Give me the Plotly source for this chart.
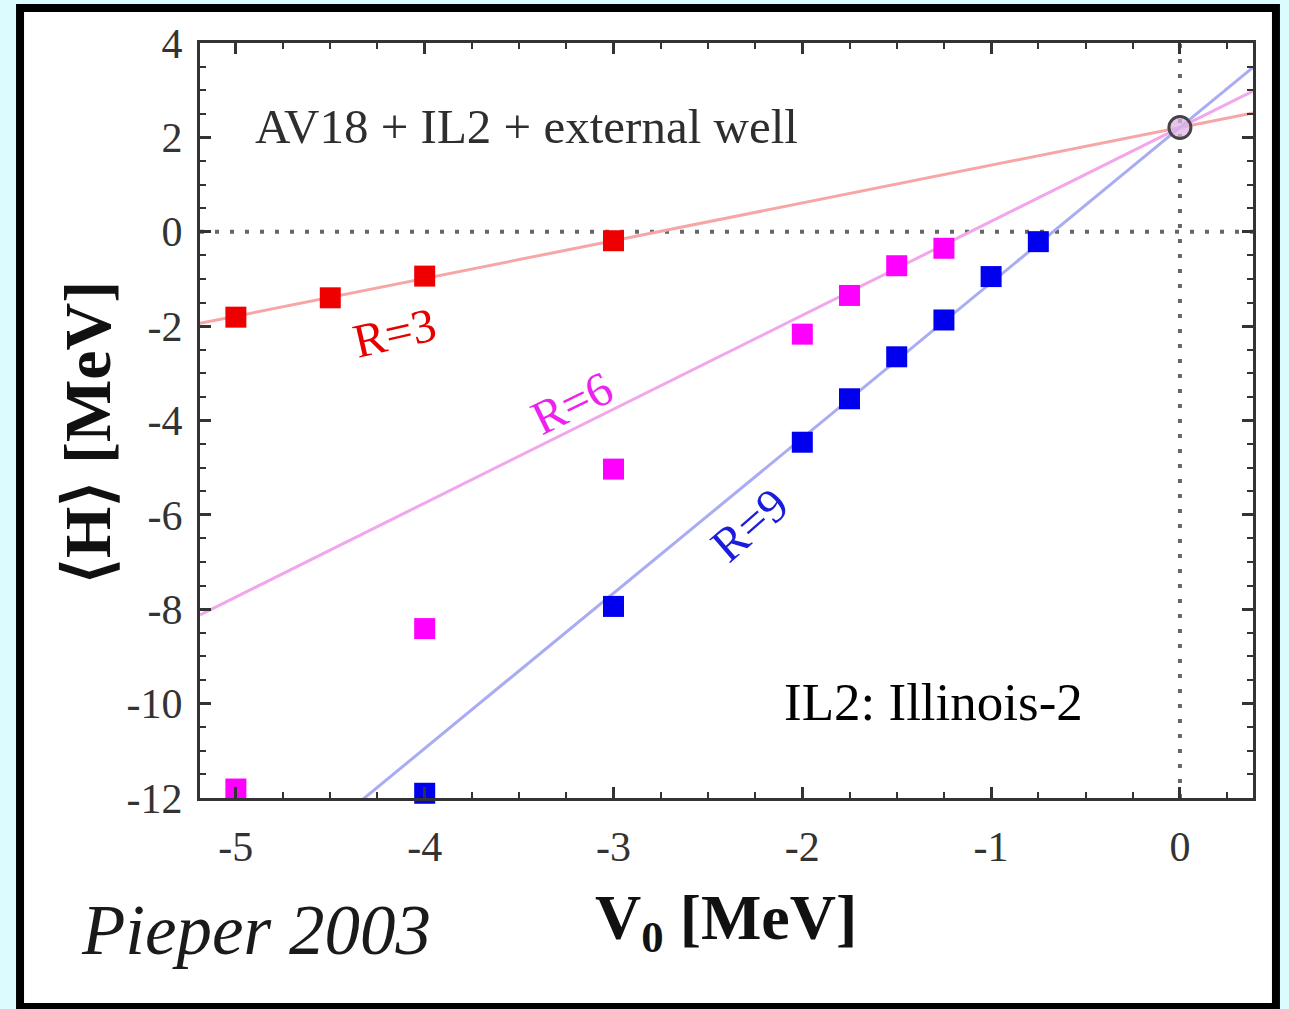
import plotly.graph_objects as go

# ---- data: <H> versus well depth V0 for three well radii ----
v0_r3 = [-5, -4.5, -4, -3]
h_r3 = [-1.81, -1.40, -0.94, -0.19]

v0_r6 = [-5, -4, -3, -2, -1.75, -1.5, -1.25]
h_r6 = [-11.81, -8.41, -5.03, -2.17, -1.35, -0.72, -0.35]

v0_r9 = [-4, -3, -2, -1.75, -1.5, -1.25, -1, -0.75]
h_r9 = [-11.90, -7.94, -4.46, -3.54, -2.65, -1.87, -0.95, -0.21]

# free (no-well) value at V0 = 0
free_v0 = [0.0]
free_h = [2.21]

# straight-line fits through the free value
fit_names = ["R=3", "R=6", "R=9"]
fit_slopes = [0.80, 1.99, 3.29]
fit_intercept = 2.21

x_ticks = [-5, -4, -3, -2, -1, 0]
x_tick_text = ["-5", "-4", "-3", "-2", "-1", "0"]
y_ticks = [4, 2, 0, -2, -4, -6, -8, -10, -12]
y_tick_text = ["4", "2", "0", "-2", "-4", "-6", "-8", "-10", "-12"]

X_RANGE = [-5.19, 0.387]
Y_RANGE = [-12, 4]

point_colors = ["#ee0000", "#ff00ff", "#0000ee"]
line_colors = ["#f6a6a6", "#f2a6ec", "#a9acf2"]
label_colors = ["#e60000", "#ee22ee", "#1c1cdc"]

SERIF = "Liberation Serif, Times New Roman, serif"

fig = go.Figure()

# outer white panel with black frame (drawn first, underneath everything)
fig.add_shape(type="rect", xref="paper", yref="paper",
              x0=-0.1709, x1=1.0218, y0=-0.2768, y1=1.0464,
              line=dict(color="#000000", width=8), fillcolor="white",
              layer="below")

# dotted zero lines
dot_style = dict(color="#666666", width=4, dash="4px,11px")
fig.add_shape(type="line", xref="x", yref="y", x0=X_RANGE[0], x1=X_RANGE[1],
              y0=0, y1=0, line=dot_style, layer="below")
fig.add_shape(type="line", xref="x", yref="y", x0=0, x1=0,
              y0=Y_RANGE[0], y1=Y_RANGE[1], line=dot_style, layer="below")

# fit lines across the full axis range
for slope, lc in zip(fit_slopes, line_colors):
    xs = list(X_RANGE)
    ys = [fit_intercept + slope * x for x in xs]
    fig.add_trace(go.Scatter(x=xs, y=ys, mode="lines",
                             line=dict(color=lc, width=3),
                             hoverinfo="skip", showlegend=False))

# data points
for xs, ys, c in zip([v0_r3, v0_r6, v0_r9], [h_r3, h_r6, h_r9], point_colors):
    fig.add_trace(go.Scatter(x=xs, y=ys, mode="markers",
                             marker=dict(symbol="square", size=21, color=c,
                                         line=dict(width=0)),
                             cliponaxis=False, showlegend=False))

# free value
fig.add_trace(go.Scatter(x=free_v0, y=free_h, mode="markers",
                         marker=dict(symbol="circle", size=22,
                                     color="rgba(222,180,228,0.75)",
                                     line=dict(color="#444444", width=3)),
                         cliponaxis=False, showlegend=False))

# line labels
label_pos = [(-4.16, -2.14, -13), (-3.22, -3.61, -26), (-2.28, -6.21, -41)]
for name, (lx, ly, ang), col in zip(fit_names, label_pos, label_colors):
    fig.add_annotation(x=lx, y=ly, text=name, showarrow=False, textangle=ang,
                       font=dict(family=SERIF, size=48, color=col),
                       xanchor="center", yanchor="middle")

fig.add_annotation(x=-4.91, y=2.23, text="AV18 + IL2 + external well",
                   showarrow=False, xanchor="left", yanchor="middle",
                   font=dict(family=SERIF, size=49, color="#2e2e2e"))
fig.add_annotation(x=-2.11, y=-9.97, text="IL2: Illinois-2",
                   showarrow=False, xanchor="left", yanchor="middle",
                   font=dict(family=SERIF, size=53, color="#000000"))

# axis titles and credit
fig.add_annotation(xref="paper", yref="paper", x=0.4995, y=-0.164,
                   text="<b>V<sub>0</sub> [MeV]</b>", showarrow=False,
                   xanchor="center", yanchor="middle",
                   font=dict(family=SERIF, size=64, color="#111111"))
fig.add_annotation(xref="paper", yref="paper", x=-0.1064, y=0.4848,
                   text="<b>\u27e8H\u27e9 [MeV]</b>", showarrow=False,
                   textangle=-90, xanchor="center", yanchor="middle",
                   font=dict(family=SERIF, size=66, color="#111111"))
fig.add_annotation(xref="paper", yref="paper", x=0.053, y=-0.175,
                   text="<i>Pieper 2003</i>", showarrow=False,
                   xanchor="center", yanchor="middle",
                   font=dict(family=SERIF, size=71, color="#1a1a1a"))

axis_common = dict(showline=True, linecolor="#333333", linewidth=3,
                   mirror="ticks", ticks="inside", ticklen=11, tickwidth=2.5,
                   tickcolor="#333333", showgrid=False, zeroline=False,
                   tickfont=dict(family=SERIF, size=42, color="#333333"))

fig.update_xaxes(range=X_RANGE, tickmode="array", tickvals=x_ticks,
                 ticktext=x_tick_text, ticklabelstandoff=10,
                 minor=dict(dtick=0.25, ticks="inside", ticklen=6,
                            tickwidth=2, tickcolor="#333333"),
                 **axis_common)
fig.update_yaxes(range=Y_RANGE, tickmode="array", tickvals=y_ticks,
                 ticktext=y_tick_text, ticklabelstandoff=6,
                 minor=dict(dtick=0.5, ticks="inside", ticklen=6,
                            tickwidth=2, tickcolor="#333333"),
                 **axis_common)

fig.update_layout(width=1289, height=1009,
                  margin=dict(l=200, r=36, t=43, b=211),
                  paper_bgcolor="#dbfbff", plot_bgcolor="rgba(0,0,0,0)",
                  showlegend=False)

fig.write_html("out.html")
